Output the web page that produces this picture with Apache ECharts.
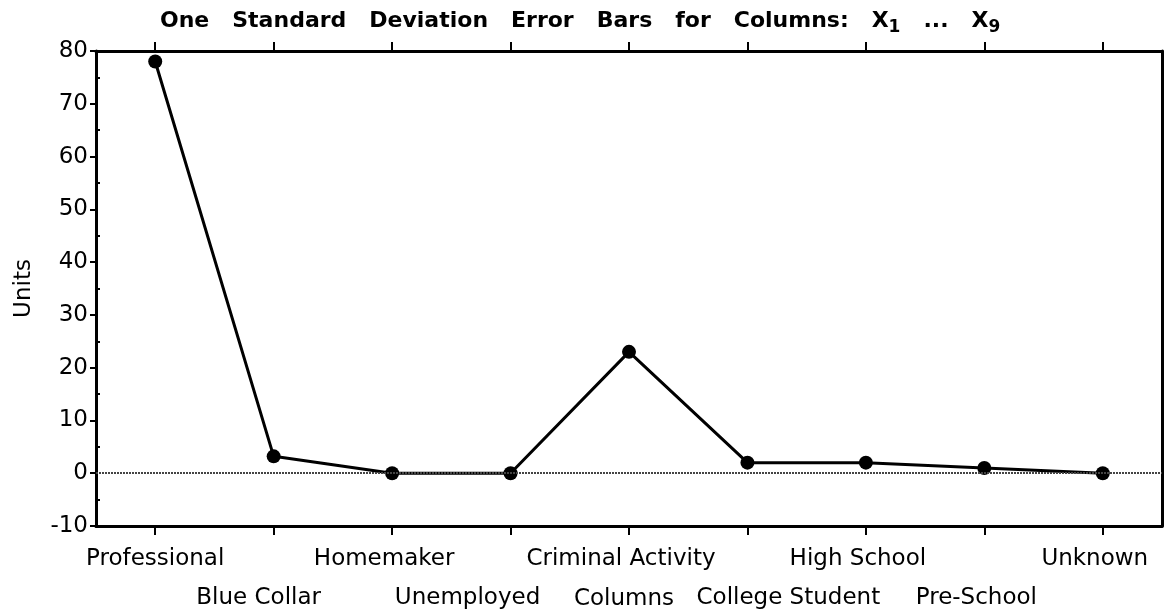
<!DOCTYPE html>
<html>
<head>
<meta charset="utf-8">
<title>Error Bars</title>
<script src="https://cdn.jsdelivr.net/npm/echarts@6/dist/echarts.min.js"></script>
<style>
  html, body { margin: 0; padding: 0; background: #fff; }
  #chart { width: 1164px; height: 611px; }
</style>
</head>
<body>
<div id="chart"></div>
<script>
// categories along the x axis (labels alternate between two rows)
const categories = [
  'Professional', 'Blue Collar', 'Homemaker', 'Unemployed', 'Criminal Activity',
  'College', 'High School Student', 'Pre-School', 'Unknown'
]
// one point per column
const values = [78, 3.2, 0, 0, 23, 2, 2, 1, 0]
const yMin = -10
const yMax = 80
const yStep = 10

const font = 'DejaVu Sans'
const ink = '#000'

// small left nudges so the labels sit like the original's hand placed text
function lbl(pad) {
  return { fontFamily: font, fontSize: 23, color: ink, lineHeight: 39, padding: [0, pad, 0, 0] }
}

const chart = echarts.init(document.getElementById('chart'))

chart.setOption({
  backgroundColor: '#fff',
  animation: false,
  title: {
    text: 'One   Standard   Deviation   Error   Bars   for   Columns:   X{sub|1}   ...   X{sub|9}',
    left: 155,
    top: 2,
    textStyle: {
      fontFamily: font,
      fontWeight: 'bold',
      fontSize: 22,
      color: ink,
      rich: {
        sub: { fontFamily: font, fontWeight: 'bold', fontSize: 17, color: ink, padding: [12, 0, 0, 0] }
      }
    }
  },
  grid: {
    left: 96,
    right: 2,
    top: 51,
    bottom: 85,
    containLabel: false,
    outerBoundsMode: 'none'
  },
  xAxis: [
    {
      type: 'category',
      data: categories,
      position: 'bottom',
      boundaryGap: true,
      name: 'Columns',
      nameLocation: 'middle',
      nameGap: 62,
      nameMoveOverlap: false,
      nameTextStyle: { fontFamily: font, fontSize: 23, color: ink, padding: [0, 10, 0, 0] },
      axisLine: { onZero: false, lineStyle: { color: ink, width: 3 } },
      axisTick: { show: true, interval: 0, alignWithLabel: true, length: 9, lineStyle: { color: ink, width: 2 } },
      axisLabel: {
        interval: 0,
        margin: 14,
        fontFamily: font,
        fontSize: 23,
        color: ink,
        lineHeight: 39,
        formatter: function (val, idx) {
          if (val === 'Professional') return '{p|' + val + '}'
          if (val === 'Blue Collar') return '\n{b|' + val + '}'
          if (val === 'Unemployed') return '\n{u|' + val + '}'
          if (val === 'High School Student') return '{n|High School}\n{s|Student}'
          return idx % 2 === 1 ? '\n{n|' + val + '}' : '{n|' + val + '}'
        },
        rich: {
          p: lbl(0),
          n: lbl(16),
          b: lbl(30),
          u: lbl(86),
          s: lbl(62)
        }
      },
      splitLine: { show: false }
    },
    {
      type: 'category',
      data: categories,
      position: 'top',
      boundaryGap: true,
      axisLine: { onZero: false, lineStyle: { color: ink, width: 3 } },
      axisTick: { show: true, interval: 0, alignWithLabel: true, length: 9, lineStyle: { color: ink, width: 2 } },
      axisLabel: { show: false, interval: 0 },
      splitLine: { show: false }
    }
  ],
  yAxis: [
    {
      type: 'value',
      min: yMin,
      max: yMax,
      interval: yStep,
      name: 'Units',
      nameLocation: 'middle',
      nameGap: 60,
      nameMoveOverlap: false,
      nameTextStyle: { fontFamily: font, fontSize: 23, color: ink },
      axisLine: { show: true, onZero: false, lineStyle: { color: ink, width: 3 } },
      axisTick: { show: true, length: 6, lineStyle: { color: ink, width: 2 } },
      minorTick: { show: true, splitNumber: 2, length: -4, lineStyle: { color: ink, width: 2 } },
      axisLabel: { margin: 8, fontFamily: font, fontSize: 23, color: ink },
      splitLine: { show: false }
    },
    {
      type: 'value',
      min: yMin,
      max: yMax,
      interval: yStep,
      position: 'right',
      axisLine: { show: true, onZero: false, lineStyle: { color: ink, width: 3 } },
      axisTick: { show: false },
      axisLabel: { show: false },
      splitLine: { show: false }
    }
  ],
  series: [
    {
      name: 'Columns',
      type: 'line',
      data: values,
      symbol: 'circle',
      symbolSize: 14,
      itemStyle: { color: ink },
      lineStyle: { color: ink, width: 3 },
      markLine: {
        silent: true,
        symbol: 'none',
        label: { show: false },
        lineStyle: { color: '#444', type: [2, 1], width: 2 },
        data: [{ yAxis: 0 }]
      }
    }
  ]
})
</script>
</body>
</html>
